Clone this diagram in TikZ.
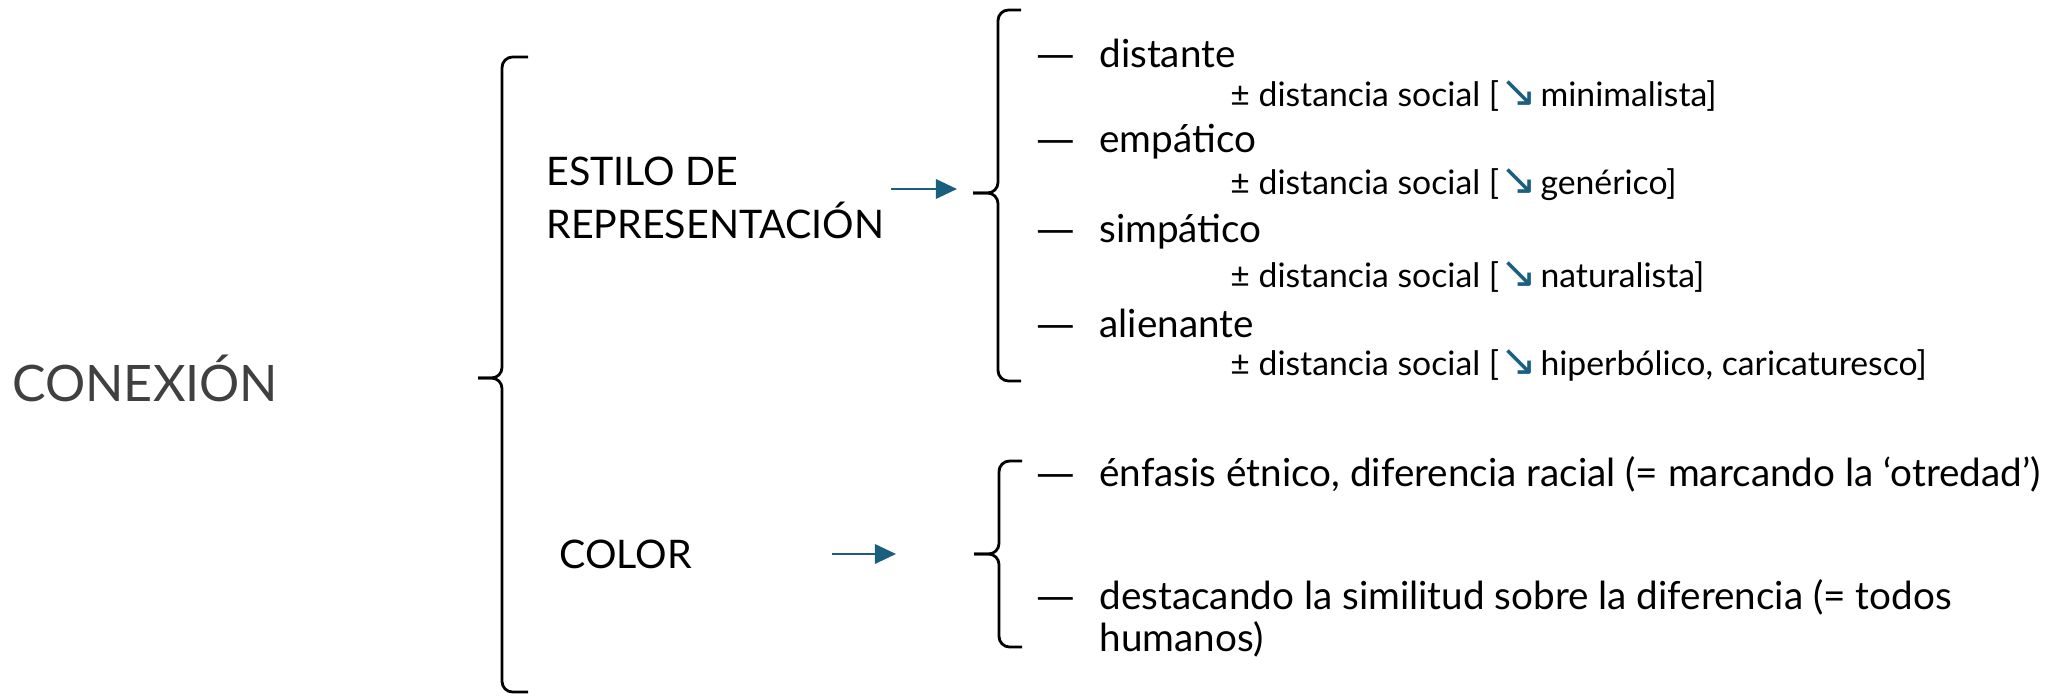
\documentclass[tikz,border=0pt]{standalone}
\usepackage{fontspec}
\setmainfont{Lato}
\newfontfamily\symfont{DejaVu Sans}
\usepackage{xcolor}
\usetikzlibrary{positioning,arrows.meta}
\definecolor{arrowblue}{RGB}{26,94,128}
\definecolor{headgrey}{RGB}{64,64,64}
\newcommand{\downarr}{\hspace{0.5pt}{\color{arrowblue}\symfont\fontsize{12.5}{12}\selectfont ↘}\hspace{0.8pt}}
\newcommand{\socnote}[1]{± distancia social [\downarr#1]}
\newcommand{\dashed}{\llap{{\symfont —}\hspace{7pt}}}

\begin{document}
\begin{tikzpicture}[
    curly/.style={line width=0.8pt, rounded corners=3pt},
    head/.style={font=\fontsize{14.3}{17}\selectfont, text=headgrey, anchor=west},
    cat/.style={font=\fontsize{11.2}{15}\selectfont, align=left, anchor=west},
    entry/.style={font=\fontsize{11}{12}\selectfont, align=left, anchor=west},
    note/.style={font=\fontsize{9.6}{12}\selectfont, anchor=west},
    link/.style={-{Triangle[length=6pt,width=5.5pt]}, draw=arrowblue, fill=arrowblue, line width=0.7pt},
  ]
  \useasboundingbox (0,0) rectangle (20.67,6.95);

  % left side
  \node[head] (conexion) at (0.0,3.17) {CONEXIÓN};
  \draw[curly] (5.28,6.38) -- (5.02,6.38) -- (5.02,3.17) -- (4.78,3.17);
  \draw[curly] (5.28,0.03) -- (5.02,0.03) -- (5.02,3.17) -- (4.78,3.17);

  \node[cat] (estilo) at (5.34,4.97) {ESTILO DE\\REPRESENTACIÓN};
  \node[cat] (color) at (5.47,1.41) {COLOR};

  % braces of the right side
  \draw[curly] (10.21,6.85) -- (9.98,6.85) -- (9.98,5.02) -- (9.73,5.02);
  \draw[curly] (10.21,3.14) -- (9.98,3.14) -- (9.98,5.02) -- (9.73,5.02);
  \draw[curly] (10.22,2.34) -- (9.99,2.34) -- (9.99,1.41) -- (9.74,1.41);
  \draw[curly] (10.22,0.48) -- (9.99,0.48) -- (9.99,1.41) -- (9.74,1.41);

  \coordinate (startA) at (8.91,5.06);
  \coordinate (endA) at (9.57,5.06);
  \coordinate (startB) at (8.32,1.41);
  \coordinate (endB) at (8.96,1.41);
  \draw[link] (startA) -- (endA);
  \draw[link] (startB) -- (endB);

  % estilo
  \node[entry] (distante) at (10.87,6.42) {\dashed distante};
  \node[note] (n1) at (12.18,5.99) {\socnote{minimalista}};
  \node[entry] (empatico) at (10.87,5.53) {\dashed empático};
  \node[note] (n2) at (12.18,5.10) {\socnote{genérico}};
  \node[entry] (simpatico) at (10.87,4.63) {\dashed simpático};
  \node[note] (n3) at (12.18,4.18) {\socnote{naturalista}};
  \node[entry] (alienante) at (10.87,3.72) {\dashed alienante};
  \node[note] (n4) at (12.18,3.30) {\socnote{hiperbólico, caricaturesco}};

  % color
  \node[entry] (enfasis) at (10.87,2.21) {\dashed énfasis étnico, diferencia racial (= marcando la ‘otredad’)};
  \node[entry] (similitud) at (10.87,0.77) {\dashed destacando la similitud sobre la diferencia (= todos\\humanos)};
\end{tikzpicture}
\end{document}
